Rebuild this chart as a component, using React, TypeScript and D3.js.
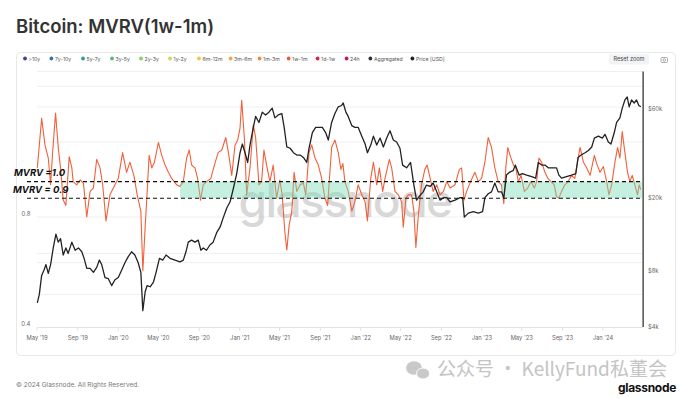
import React from "react";
import * as d3 from "d3";

// MVRV (1w-1m cohort)
const mvrvSeries: [string, number][] = [
  ["2019-05-02", 1.09], ["2019-05-15", 1.49], ["2019-05-25", 1.26], ["2019-06-04", 1.16],
  ["2019-06-11", 0.98], ["2019-06-17", 1.2], ["2019-06-26", 1.54], ["2019-07-04", 1.24],
  ["2019-07-11", 1.09], ["2019-07-19", 0.89], ["2019-07-27", 0.86], ["2019-08-06", 1.17],
  ["2019-08-14", 1.09], ["2019-08-18", 1.0], ["2019-08-29", 0.98], ["2019-09-08", 1.01],
  ["2019-09-18", 0.99], ["2019-09-28", 0.8], ["2019-10-08", 0.94], ["2019-10-18", 0.96],
  ["2019-10-28", 1.15], ["2019-11-07", 1.09], ["2019-11-15", 0.98], ["2019-11-25", 0.78],
  ["2019-12-07", 0.92], ["2019-12-22", 0.98], ["2020-01-01", 1.02], ["2020-01-14", 1.2],
  ["2020-01-26", 1.06], ["2020-02-05", 1.13], ["2020-02-17", 1.04], ["2020-02-27", 0.92],
  ["2020-03-09", 0.83], ["2020-03-15", 0.57], ["2020-03-22", 0.75], ["2020-03-27", 0.9],
  ["2020-04-03", 1.18], ["2020-04-11", 1.09], ["2020-04-19", 1.13], ["2020-05-01", 1.28],
  ["2020-05-11", 1.18], ["2020-05-21", 1.11], ["2020-05-31", 1.06], ["2020-06-10", 1.02],
  ["2020-06-25", 0.98], ["2020-07-05", 0.97], ["2020-07-15", 1.0], ["2020-07-25", 1.16],
  ["2020-08-02", 1.22], ["2020-08-09", 1.11], ["2020-08-19", 1.09], ["2020-08-27", 1.02],
  ["2020-09-05", 0.89], ["2020-09-13", 0.98], ["2020-09-23", 1.0], ["2020-10-06", 1.02],
  ["2020-10-18", 1.12], ["2020-10-28", 1.2], ["2020-11-08", 1.22], ["2020-11-20", 1.32],
  ["2020-11-28", 1.2], ["2020-12-08", 1.04], ["2020-12-18", 1.26], ["2020-12-26", 1.3],
  ["2021-01-02", 1.4], ["2021-01-07", 1.67], ["2021-01-15", 1.32], ["2021-01-22", 0.92],
  ["2021-02-01", 1.09], ["2021-02-11", 1.43], ["2021-02-18", 1.32], ["2021-02-28", 0.98],
  ["2021-03-08", 1.0], ["2021-03-15", 1.22], ["2021-03-23", 1.11], ["2021-04-02", 1.0],
  ["2021-04-12", 1.11], ["2021-04-22", 0.9], ["2021-05-02", 1.01], ["2021-05-09", 0.92],
  ["2021-05-17", 0.73], ["2021-05-23", 0.65], ["2021-05-30", 0.76], ["2021-06-07", 0.83],
  ["2021-06-14", 1.06], ["2021-06-22", 0.94], ["2021-07-02", 0.98], ["2021-07-12", 0.99],
  ["2021-07-19", 0.92], ["2021-07-29", 1.2], ["2021-08-06", 1.26], ["2021-08-16", 1.16],
  ["2021-08-26", 1.11], ["2021-09-05", 1.02], ["2021-09-15", 0.9], ["2021-09-23", 0.86],
  ["2021-10-05", 1.24], ["2021-10-15", 1.3], ["2021-10-25", 1.2], ["2021-11-02", 1.08],
  ["2021-11-08", 1.12], ["2021-11-14", 1.0], ["2021-11-24", 0.94], ["2021-12-05", 0.83],
  ["2021-12-14", 0.88], ["2021-12-24", 0.98], ["2022-01-04", 0.92], ["2022-01-14", 0.88],
  ["2022-01-21", 0.78], ["2022-01-31", 1.02], ["2022-02-08", 1.13], ["2022-02-18", 0.98],
  ["2022-02-26", 1.09], ["2022-03-08", 0.94], ["2022-03-15", 1.02], ["2022-03-28", 1.15],
  ["2022-04-04", 1.09], ["2022-04-14", 0.94], ["2022-04-24", 0.92], ["2022-05-04", 0.88],
  ["2022-05-09", 0.75], ["2022-05-17", 0.9], ["2022-05-24", 0.92], ["2022-06-03", 0.92],
  ["2022-06-10", 0.83], ["2022-06-16", 0.66], ["2022-06-23", 0.8], ["2022-07-03", 0.98],
  ["2022-07-13", 1.08], ["2022-07-20", 1.11], ["2022-07-29", 1.02], ["2022-08-07", 0.94],
  ["2022-08-18", 0.98], ["2022-08-28", 0.92], ["2022-09-07", 0.94], ["2022-09-17", 1.0],
  ["2022-09-27", 0.96], ["2022-10-12", 0.98], ["2022-10-25", 1.08], ["2022-11-01", 1.09],
  ["2022-11-08", 0.89], ["2022-11-16", 0.94], ["2022-11-28", 1.0], ["2022-12-11", 1.06],
  ["2022-12-21", 1.0], ["2022-12-31", 1.02], ["2023-01-10", 1.13], ["2023-01-20", 1.32],
  ["2023-01-30", 1.24], ["2023-02-09", 1.09], ["2023-02-19", 1.0], ["2023-03-01", 0.98],
  ["2023-03-08", 0.87], ["2023-03-14", 1.09], ["2023-03-20", 1.24], ["2023-03-27", 1.18],
  ["2023-04-06", 1.11], ["2023-04-13", 1.09], ["2023-04-21", 1.0], ["2023-04-29", 1.04],
  ["2023-05-09", 0.94], ["2023-05-19", 0.96], ["2023-05-29", 1.0], ["2023-06-08", 0.96],
  ["2023-06-15", 1.0], ["2023-06-22", 1.16], ["2023-06-30", 1.13], ["2023-07-10", 1.06],
  ["2023-07-19", 1.02], ["2023-07-28", 1.0], ["2023-08-07", 0.98], ["2023-08-14", 0.91],
  ["2023-08-21", 0.9], ["2023-08-29", 0.94], ["2023-09-08", 0.98], ["2023-09-18", 1.0],
  ["2023-09-28", 1.04], ["2023-10-08", 1.02], ["2023-10-18", 1.16], ["2023-10-24", 1.24],
  ["2023-11-03", 1.13], ["2023-11-13", 1.09], ["2023-11-23", 1.04], ["2023-12-06", 1.18],
  ["2023-12-13", 1.12], ["2023-12-23", 1.06], ["2024-01-02", 1.1], ["2024-01-12", 1.0],
  ["2024-01-19", 0.92], ["2024-01-27", 0.98], ["2024-02-06", 1.13], ["2024-02-14", 1.24],
  ["2024-02-21", 1.16], ["2024-02-28", 1.37], ["2024-03-07", 1.2], ["2024-03-15", 1.06],
  ["2024-03-22", 1.0], ["2024-03-29", 1.04], ["2024-04-06", 0.98], ["2024-04-14", 0.92],
  ["2024-04-19", 0.98], ["2024-04-24", 0.95],
];

// BTC price in USD
const priceSeries: [string, number][] = [
  ["2019-05-02", 5400], ["2019-05-08", 6000], ["2019-05-15", 7600], ["2019-05-22", 8100],
  ["2019-05-28", 8700], ["2019-06-04", 7800], ["2019-06-11", 8700], ["2019-06-19", 10700],
  ["2019-06-27", 12700], ["2019-07-04", 11500], ["2019-07-11", 12000], ["2019-07-19", 9800],
  ["2019-07-27", 10700], ["2019-08-03", 10000], ["2019-08-14", 11500], ["2019-08-24", 10400],
  ["2019-09-03", 10700], ["2019-09-13", 10200], ["2019-09-20", 9400], ["2019-09-28", 8300],
  ["2019-10-08", 8300], ["2019-10-18", 7900], ["2019-10-28", 8400], ["2019-11-05", 9200],
  ["2019-11-12", 8700], ["2019-11-22", 7400], ["2019-12-02", 7300], ["2019-12-12", 6700],
  ["2019-12-22", 7200], ["2020-01-01", 7400], ["2020-01-11", 8100], ["2020-01-21", 8900],
  ["2020-01-31", 9600], ["2020-02-10", 10200], ["2020-02-20", 9800], ["2020-03-01", 8900],
  ["2020-03-09", 7900], ["2020-03-15", 4900], ["2020-03-22", 6200], ["2020-03-28", 6700],
  ["2020-04-06", 6600], ["2020-04-16", 7000], ["2020-04-24", 7900], ["2020-05-04", 9400],
  ["2020-05-14", 9200], ["2020-05-24", 9800], ["2020-06-05", 9400], ["2020-06-20", 9200],
  ["2020-07-05", 9000], ["2020-07-15", 9200], ["2020-07-23", 10200], ["2020-07-30", 11500],
  ["2020-08-09", 11800], ["2020-08-19", 11500], ["2020-08-29", 11800], ["2020-09-06", 10400],
  ["2020-09-13", 10700], ["2020-09-23", 10400], ["2020-10-03", 11100], ["2020-10-13", 11500],
  ["2020-10-24", 13000], ["2020-11-03", 13900], ["2020-11-13", 15700], ["2020-11-23", 17600],
  ["2020-12-03", 19000], ["2020-12-13", 22500], ["2020-12-23", 27000], ["2021-01-02", 35000],
  ["2021-01-09", 39000], ["2021-01-17", 35000], ["2021-01-25", 31000], ["2021-02-01", 38500],
  ["2021-02-11", 48000], ["2021-02-18", 55000], ["2021-02-28", 51000], ["2021-03-10", 58000],
  ["2021-03-20", 56000], ["2021-03-30", 58000], ["2021-04-09", 61000], ["2021-04-17", 54000],
  ["2021-04-27", 56000], ["2021-05-08", 57000], ["2021-05-15", 48000], ["2021-05-23", 37600],
  ["2021-06-02", 37000], ["2021-06-12", 35000], ["2021-06-22", 34000], ["2021-07-02", 34000],
  ["2021-07-12", 33000], ["2021-07-22", 31000], ["2021-07-29", 37000], ["2021-08-08", 45000],
  ["2021-08-18", 48000], ["2021-08-28", 48000], ["2021-09-07", 48000], ["2021-09-17", 45000],
  ["2021-09-25", 41000], ["2021-10-05", 51000], ["2021-10-15", 57000], ["2021-10-25", 62000],
  ["2021-11-04", 63000], ["2021-11-09", 65000], ["2021-11-17", 58000], ["2021-11-24", 55000],
  ["2021-12-05", 49000], ["2021-12-14", 48000], ["2021-12-24", 48000], ["2022-01-04", 43000],
  ["2022-01-14", 39000], ["2022-01-21", 35000], ["2022-01-31", 38500], ["2022-02-08", 43000],
  ["2022-02-18", 38500], ["2022-02-28", 42000], ["2022-03-10", 37600], ["2022-03-20", 42000],
  ["2022-03-30", 46000], ["2022-04-09", 41000], ["2022-04-19", 40000], ["2022-04-29", 37000],
  ["2022-05-07", 30000], ["2022-05-19", 29000], ["2022-05-31", 31000], ["2022-06-10", 23400],
  ["2022-06-18", 19400], ["2022-06-28", 20500], ["2022-07-08", 21500], ["2022-07-18", 23400],
  ["2022-07-29", 23000], ["2022-08-07", 24000], ["2022-08-18", 21500], ["2022-08-28", 19400],
  ["2022-09-07", 20000], ["2022-09-17", 20000], ["2022-09-27", 19000], ["2022-10-12", 19400],
  ["2022-10-27", 20000], ["2022-11-04", 20000], ["2022-11-09", 15700], ["2022-11-21", 16500],
  ["2022-12-06", 16800], ["2022-12-21", 16500], ["2023-01-03", 16800], ["2023-01-10", 20000],
  ["2023-01-20", 21000], ["2023-01-30", 21500], ["2023-02-09", 24000], ["2023-02-19", 21500],
  ["2023-03-01", 21500], ["2023-03-08", 20000], ["2023-03-16", 26500], ["2023-03-26", 27500],
  ["2023-04-05", 28000], ["2023-04-12", 30000], ["2023-04-23", 26500], ["2023-05-03", 27000],
  ["2023-05-16", 26500], ["2023-05-31", 26000], ["2023-06-12", 25500], ["2023-06-20", 31000],
  ["2023-06-30", 30000], ["2023-07-10", 30000], ["2023-07-20", 29000], ["2023-08-04", 29000],
  ["2023-08-14", 29000], ["2023-08-21", 26500], ["2023-08-29", 25500], ["2023-09-13", 26000],
  ["2023-09-28", 26500], ["2023-10-11", 27000], ["2023-10-18", 33000], ["2023-10-27", 34000],
  ["2023-11-08", 35000], ["2023-11-18", 36000], ["2023-11-28", 37600], ["2023-12-06", 42000],
  ["2023-12-18", 43000], ["2023-12-30", 42000], ["2024-01-07", 44000], ["2024-01-17", 40000],
  ["2024-01-25", 39000], ["2024-02-04", 45000], ["2024-02-11", 51000], ["2024-02-21", 54000],
  ["2024-02-28", 61000], ["2024-03-07", 67500], ["2024-03-14", 70000], ["2024-03-20", 62000],
  ["2024-03-27", 67500], ["2024-04-04", 65000], ["2024-04-11", 67500], ["2024-04-18", 63000],
  ["2024-04-24", 62000],
];

// periods where the 0.9 - 1.0 zone is shaded
const bandPeriods: [string, string][] = [
  ["2020-07-05", "2021-11-29"],
  ["2023-03-02", "2024-04-27"],
];
const bandLevels = [0.9, 1.0];

const leftTicks = [0.4, 0.8];
const leftGrid = [0.6, 0.8, 1.6, 2.0];
const rightTicks = [4000, 8000, 20000, 60000];
const rightGrid = [6000, 10000, 40000, 80000];

const legendLabels = [">10y", "7y-10y", "5y-7y", "3y-5y", "2y-3y", "1y-2y", "6m-12m", "3m-6m", "1m-3m", "1w-1m", "1d-1w", "24h", "Aggregated", "Price [USD]"];
const legendColors = ["#4d3c92", "#3a70b8", "#2e9d9a", "#58b979", "#92cb6a", "#cdd85a", "#f2c443", "#f4a64a", "#ee8a3b", "#ec593a", "#d3264b", "#c01a56", "#333333", "#222222"];

const W = 692;
const H = 398;
const FONT = "Inter, 'Noto Sans', sans-serif";

const parse = d3.timeParse("%Y-%m-%d");

const App = () => {
  const x = d3.scaleTime()
    .domain([parse("2019-05-01")!, parse("2024-01-01")!])
    .range([37, 603]);
  const plotEnd = parse("2024-05-01")!;
  const yL = d3.scaleLog().domain([0.4, 2.0]).range([327, 71.6]);
  const yR = d3.scaleLog().domain([4000, 80000]).range([327, 86.3]);

  const plotLeft = x(parse("2019-05-01")!);
  const plotRight = x(plotEnd);
  const plotTop = yL(2.0);
  const plotBottom = yL(0.4);

  const mvrvLine = d3.line<[string, number]>()
    .x((d) => x(parse(d[0])!))
    .y((d) => yL(d[1]));
  const priceLine = d3.line<[string, number]>()
    .x((d) => x(parse(d[0])!))
    .y((d) => yR(d[1]));

  const xTicks = d3.timeMonths(parse("2019-05-01")!, parse("2024-02-01")!, 4);
  const fmt = d3.timeFormat("%b '%y");

  // legend layout
  let lx = 25;
  const legend = legendLabels.map((l, i) => {
    const item = { l, c: legendColors[i], x: lx };
    lx += 16 + l.length * 2.6;
    return item;
  });

  return (
    <svg width={W} height={H} style={{ position: "fixed", left: 0, top: 0, background: "#fff" }} fontFamily={FONT}>
      <rect x={0} y={0} width={W} height={H} fill="#fff" />
      <text x={16} y={33} fontSize={18.5} fontWeight={600} fill="#333">Bitcoin: MVRV(1w-1m)</text>

      <rect x={16.5} y={52.5} width={659} height={303} rx={4} fill="none" stroke="#e8e8e8" />

      {legend.map((d) => (
        <g key={d.l}>
          <circle cx={d.x} cy={58.5} r={1.9} fill={d.c} />
          <text x={d.x + 3.5} y={60.5} fontSize={5.2} fill="#555">{d.l}</text>
        </g>
      ))}
      <rect x={609} y={54} width={40} height={10.5} rx={2} fill="#f2f3f5" />
      <text x={629} y={61.3} fontSize={5.6} fill="#444" textAnchor="middle">Reset zoom</text>
      <g stroke="#9a9a9a" fill="none" strokeWidth={0.8}>
        <rect x={661} y={57.5} width={6.5} height={5} rx={1} />
        <circle cx={664.25} cy={60} r={1.3} />
      </g>

      {/* grid */}
      <g stroke="#efefef" strokeWidth={1}>
        {leftGrid.map((v) => (
          <line key={"l" + v} x1={plotLeft} x2={plotRight} y1={yL(v)} y2={yL(v)} />
        ))}
        {rightGrid.map((v) => (
          <line key={"r" + v} x1={plotLeft} x2={plotRight} y1={yR(v)} y2={yR(v)} />
        ))}
      </g>
      <line x1={plotLeft} x2={plotRight} y1={plotBottom + 0.5} y2={plotBottom + 0.5} stroke="#e3e3e3" />
      {xTicks.map((t) => (
        <g key={+t}>
          <line x1={x(t)} x2={x(t)} y1={plotBottom} y2={plotBottom + 4} stroke="#e3e3e3" />
          <text x={x(t)} y={340} fontSize={5.8} fill="#666" textAnchor="middle">{fmt(t)}</text>
        </g>
      ))}
      {leftTicks.map((v) => (
        <text key={v} x={30.5} y={yL(v) - 0.8} fontSize={6} fill="#666" textAnchor="end">{v}</text>
      ))}
      {rightTicks.map((v) => (
        <text key={v} x={648} y={yR(v) + 2} fontSize={5.8} fill="#666">{"$" + v / 1000 + "k"}</text>
      ))}

      {/* watermark */}
      <text x={345} y={217} fontSize={46} letterSpacing={-1.5} fill="#a0a0a0" opacity={0.4} textAnchor="middle" fontFamily="Inter, sans-serif" fontWeight={500}>glassnode</text>

      <path d={mvrvLine(mvrvSeries) || ""} fill="none" stroke="#f1603b" strokeWidth={1.1} strokeLinejoin="round" />
      {bandPeriods.map(([a, b]) => (
        <rect key={a} x={x(parse(a)!)} width={x(parse(b)!) - x(parse(a)!)} y={yL(bandLevels[1])} height={yL(bandLevels[0]) - yL(bandLevels[1])} fill="#7fdcb8" opacity={0.45} />
      ))}
      <path d={priceLine(priceSeries) || ""} fill="none" stroke="#222" strokeWidth={1.3} strokeLinejoin="round" />

      {bandLevels.map((v) => (
        <line key={v} x1={plotLeft - 10} x2={plotRight - 1} y1={yL(v)} y2={yL(v)} stroke="#111" strokeWidth={1.1} strokeDasharray="4 3" />
      ))}
      <text x={14} y={yL(1.0) - 6} fontSize={9.5} fontWeight={700} fontStyle="italic" fill="#111">MVRV =1.0</text>
      <text x={13} y={yL(0.9) - 5.5} fontSize={9.5} fontWeight={700} fontStyle="italic" fill="#111">MVRV = 0.9</text>

      <line x1={plotRight} x2={plotRight} y1={plotTop} y2={plotBottom} stroke="#444" strokeWidth={1.4} />

      <text x={16} y={387} fontSize={6.5} fill="#777">© 2024 Glassnode. All Rights Reserved.</text>

      {/* wechat watermark */}
      <g fill="#c9c9c9">
        <ellipse cx={414} cy={368} rx={8} ry={6.8} />
        <ellipse cx={423} cy={373.5} rx={6.5} ry={5.5} stroke="#fff" strokeWidth={1} />
      </g>
      <text x={437} y={376} fontSize={19} fill="#c4c4c4" fontFamily="'Noto Sans CJK SC', 'Noto Sans', sans-serif">公众号 · KellyFund私董会</text>
      <text x={676} y={392} fontSize={12} fontWeight={700} fill="#111" textAnchor="end" letterSpacing={-0.3}>glassnode</text>
    </svg>
  );
};

export default App;
